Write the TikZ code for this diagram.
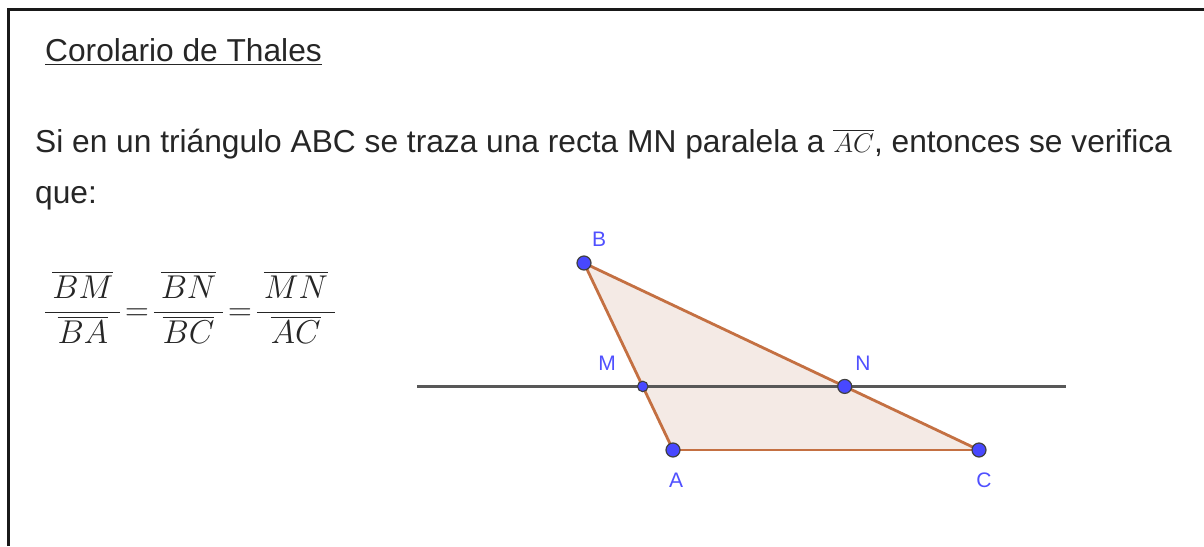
\documentclass[tikz,border=0pt]{standalone}
\usepackage{fix-cm}
\usepackage{amsmath}
\usepackage{fontspec}
\setmainfont{Liberation Sans}
\usetikzlibrary{calc}
\definecolor{edgebrown}{RGB}{196,112,66}
\definecolor{fillbrown}{RGB}{153,51,0}
\definecolor{ptblue}{RGB}{72,72,255}
\definecolor{lblblue}{RGB}{80,80,255}
\definecolor{linegray}{RGB}{88,88,88}
\newcommand{\padfrac}[2]{\dfrac{\hspace{7pt}#1\hspace{7pt}}{#2}}
\tikzset{
  pt/.style={circle,fill=ptblue,draw=black!75,line width=1.2pt,inner sep=0pt,minimum size=14pt},
  smallpt/.style={circle,fill=ptblue,draw=black!75,line width=1.1pt,inner sep=0pt,minimum size=10.5pt},
  lbl/.style={text=lblblue,font=\fontsize{21}{24}\selectfont,inner sep=0pt},
  bodytext/.style={font=\fontsize{31.7}{36}\selectfont,inner sep=0pt,text=black!85},
  side/.style={draw=edgebrown,line width=2.8pt},
}
\begin{document}
\begin{tikzpicture}[x=1pt,y=-1pt]
\useasboundingbox (0,0) rectangle (1204,546);
\fill[white] (0,0) rectangle (1204,546);
% frame
\draw[line width=3pt,black!90] (8,546) -- (8,9.5) -- (1204,9.5);
% texts
\node[bodytext,anchor=base west] (title) at (45,61) {\underline{Corolario de Thales}};
\node[bodytext,anchor=base west] (line1) at (35,152) {Si en un triángulo ABC se traza una recta MN paralela a {\fontsize{27}{30}\selectfont$\overline{AC}$}, entonces se verifica};
\node[bodytext,anchor=base west] (line2) at (35,203) {que:};
\node[inner sep=0pt,anchor=west,font=\fontsize{33}{40}\selectfont,text=black!85] (formula) at (44,307)
  {$\padfrac{\overline{BM}}{\overline{BA}}\!=\!\padfrac{\overline{BN}}{\overline{BC}}\!=\!\padfrac{\overline{MN}}{\overline{AC}}$};
% geometry
\coordinate (B) at (584,263);
\coordinate (A) at (673,450);
\coordinate (C) at (979,450);
\coordinate (L1) at (417,386.5);
\coordinate (L2) at (1066,386.5);
\coordinate (M) at ($(B)!0.66!(A)$);
\coordinate (N) at ($(B)!0.66!(C)$);
\fill[fillbrown,opacity=0.1] (B) -- (A) -- (C) -- cycle;
\draw[side] (B) -- (A);
\draw[side] (A) -- (C);
\draw[side] (C) -- (B);
\draw[linegray,line width=2.8pt] (L1) -- (L2);
\node[pt] (pB) at (B) {};
\node[pt] (pA) at (A) {};
\node[pt] (pC) at (C) {};
\node[pt] (pN) at (N) {};
\node[smallpt] (pM) at (M) {};
\node[lbl] (lB) at (599,239) {B};
\node[lbl] (lM) at (607,363) {M};
\node[lbl] (lN) at (863,363) {N};
\node[lbl] (lA) at (676,480) {A};
\node[lbl] (lC) at (984,480) {C};
\end{tikzpicture}
\end{document}
